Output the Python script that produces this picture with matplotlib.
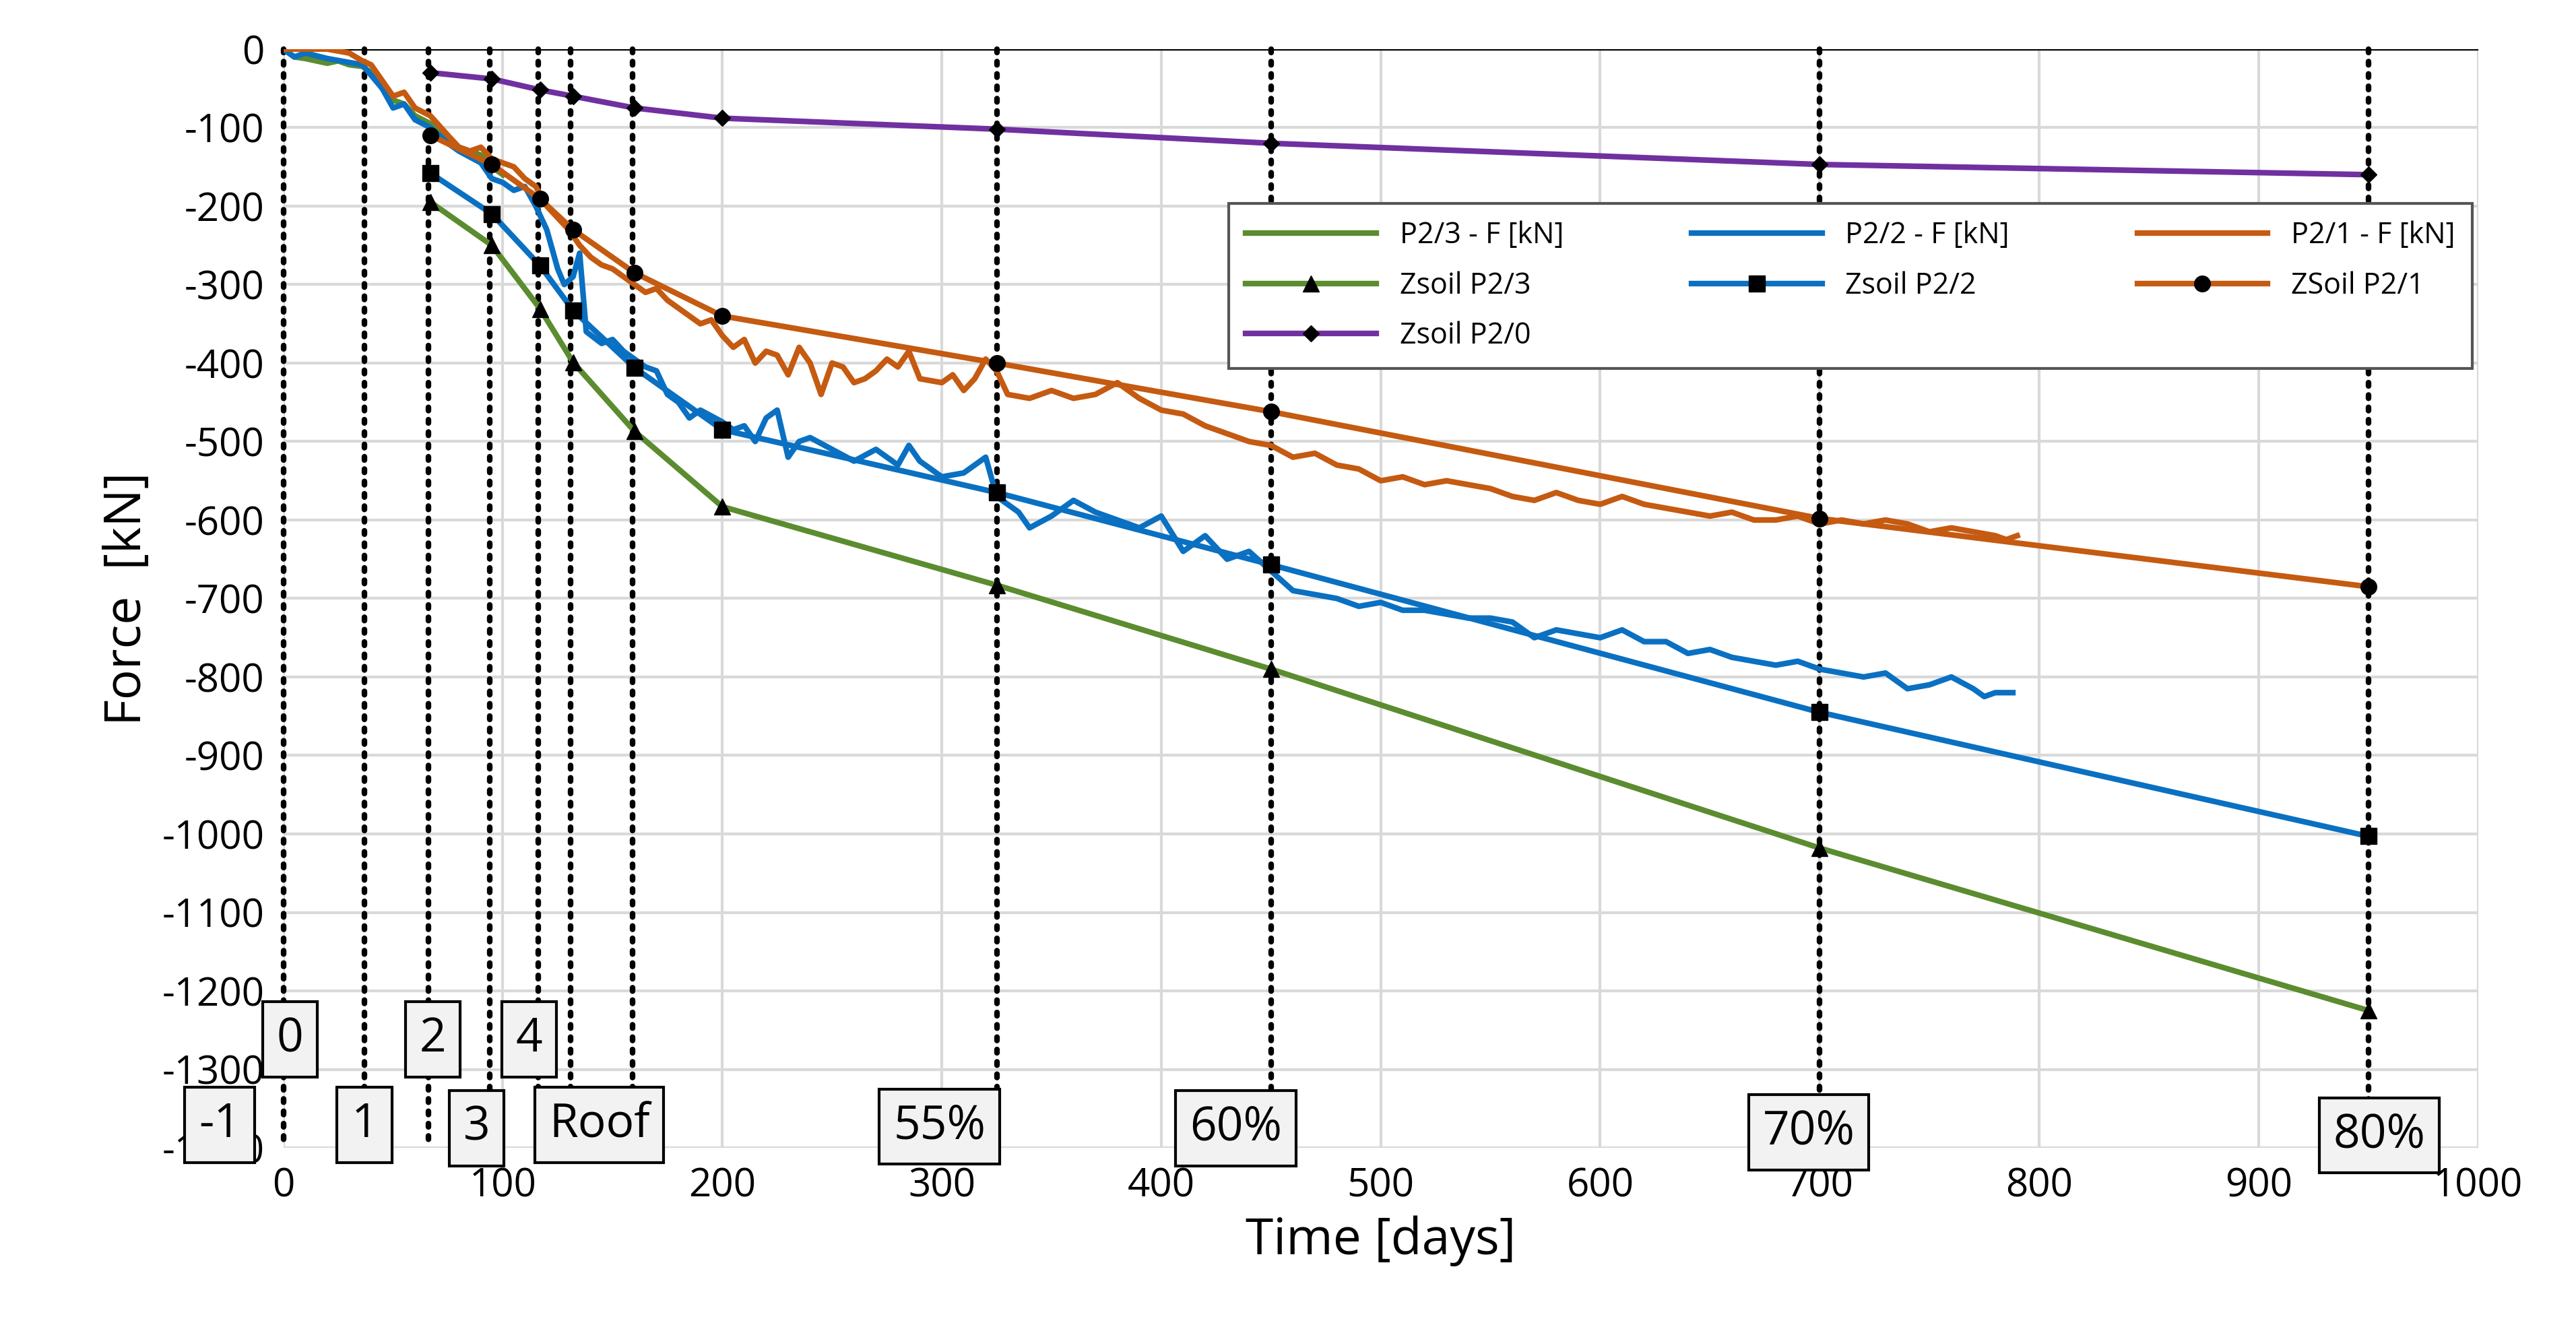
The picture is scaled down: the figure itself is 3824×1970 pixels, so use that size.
import matplotlib
matplotlib.use("Agg")
import matplotlib.pyplot as plt

# measured data
m1_t = [0,10,20,30,36,40,45,50,55,60,67,75,80,85,90,95,100,105,110,115,120,125,130,135,140,145,150,160,165,170,175,180,185,190,195,200,205,210,215,220,225,230,235,240,245,250,255,260,265,270,275,280,285,290,300,305,310,315,320,325,330,340,350,360,370,380,390,400,410,420,430,440,450,460,470,480,490,500,510,520,530,540,550,560,570,580,590,600,610,620,630,640,650,660,670,680,690,700,710,720,730,740,750,760,770,780,785,790]
m1_f = [0,0,0,-5,-15,-20,-40,-60,-55,-75,-85,-110,-125,-130,-125,-140,-145,-150,-165,-175,-200,-215,-230,-250,-265,-275,-280,-300,-310,-305,-320,-330,-340,-350,-345,-365,-380,-370,-400,-385,-390,-415,-380,-400,-440,-400,-405,-425,-420,-410,-395,-405,-385,-420,-425,-415,-435,-420,-395,-410,-440,-445,-435,-445,-440,-425,-445,-460,-465,-480,-490,-500,-505,-520,-515,-530,-535,-550,-545,-555,-550,-555,-560,-570,-575,-565,-575,-580,-570,-580,-585,-590,-595,-590,-600,-600,-595,-605,-600,-605,-600,-605,-615,-610,-615,-620,-625,-620]
m2_t = [0,5,10,20,36,45,50,55,60,67,75,80,90,95,100,105,110,115,120,125,128,132,135,138,145,150,155,160,165,170,175,180,185,190,200,205,210,215,220,225,230,235,240,250,260,270,280,285,290,300,310,315,320,325,335,340,350,360,370,380,390,400,410,420,430,440,450,460,470,480,490,500,510,520,530,540,550,560,570,580,590,600,610,620,630,640,650,660,670,680,690,700,710,720,730,740,750,760,770,775,780,788]
m2_f = [0,-10,-5,-12,-20,-50,-75,-70,-90,-100,-120,-130,-145,-165,-170,-180,-175,-200,-230,-280,-300,-290,-260,-360,-375,-370,-385,-395,-405,-410,-440,-450,-470,-460,-475,-485,-480,-500,-470,-460,-520,-500,-495,-510,-525,-510,-530,-505,-525,-545,-540,-530,-520,-570,-590,-610,-595,-575,-590,-600,-610,-595,-640,-620,-650,-640,-665,-690,-695,-700,-710,-705,-715,-715,-720,-725,-725,-730,-750,-740,-745,-750,-740,-755,-755,-770,-765,-775,-780,-785,-780,-790,-795,-800,-795,-815,-810,-800,-815,-825,-820,-820]
m3_t = [0,5,10,15,20,25,30,36,40,45,50,55,60,67,75,80,90,95,100]
m3_f = [0,-10,-12,-15,-18,-15,-20,-22,-30,-50,-65,-70,-85,-95,-115,-125,-135,-150,-160]

# Zsoil
z_t = [67,95,117,132,160,200,325,450,700,950]
z0_f = [-30,-38,-52,-60,-75,-88,-102,-120,-147,-160]
z1_f = [-110,-147,-191,-230,-285,-340,-400,-462,-598,-685]
z2_f = [-158,-210,-276,-333,-406,-485,-565,-657,-845,-1003]
z3_f = [-195,-250,-331,-399,-487,-583,-683,-790,-1018,-1225]

stage_t = [0,37,66,94,116,131,159,325,450,700,950]
label_txt = ["0","2","4","-1","1","3","Roof","55%","60%","70%","80%"]
label_x = [3,68,112,-29,37,88,144,299,434,695,955]
label_y = [-1262,-1262,-1262,-1371,-1371,-1375,-1371,-1373,-1375,-1380,-1384]

GREEN, BLUE, ORANGE, PURPLE = "#5B8C2F", "#0A70C2", "#C55A11", "#7030A0"
plt.rcParams["font.family"] = "Open Sans"
plt.rcParams["axes.unicode_minus"] = False

fig = plt.figure(figsize=(38.24, 19.70), dpi=100)
ax = fig.add_axes([0.11, 0.135, 0.852, 0.828])
ax.set_xlim(0, 1000)
ax.set_ylim(-1400, 0)
ax.set_xticks(range(0, 1001, 100))
ax.set_yticks(range(-1400, 1, 100))
ax.grid(True, color="#d9d9d9", lw=3)
for s in ax.spines.values():
    s.set_visible(False)
ax.axhline(0, color="black", lw=3, zorder=3)
ax.tick_params(length=0, labelsize=42, pad=20)

for t in stage_t:
    ax.plot([t, t], [0, -1400], color="black", lw=6, ls=(0, (0.6, 1.6)), dash_capstyle="round",
            zorder=2, clip_on=False)

lw = 6
l3, = ax.plot(m3_t, m3_f, color=GREEN, lw=lw, zorder=4)
l2, = ax.plot(m2_t, m2_f, color=BLUE, lw=lw, zorder=5)
l1, = ax.plot(m1_t, m1_f, color=ORANGE, lw=lw, zorder=6)
ms = 17
z3, = ax.plot(z_t, z3_f, color=GREEN, lw=lw, marker="^", mfc="black", mec="black", ms=ms, zorder=7, clip_on=False)
z2, = ax.plot(z_t, z2_f, color=BLUE, lw=lw, marker="s", mfc="black", mec="black", ms=ms, zorder=7, clip_on=False)
z1, = ax.plot(z_t, z1_f, color=ORANGE, lw=lw, marker="o", mfc="black", mec="black", ms=ms, zorder=7, clip_on=False)
z0, = ax.plot(z_t, z0_f, color=PURPLE, lw=lw, marker="D", mfc="black", mec="black", ms=12, zorder=7, clip_on=False)

for txt, x, y in zip(label_txt, label_x, label_y):
    ax.text(x, y, txt, fontsize=50, ha="center", va="center", zorder=10, clip_on=False,
            bbox=dict(boxstyle="square,pad=0.3", fc="#f2f2f2", ec="black", lw=3))

handles = [l3, z3, z0, l2, z2, l1, z1]
labels = ["P2/3 - F [kN]", "Zsoil P2/3", "Zsoil P2/0", "P2/2 - F [kN]", "Zsoil P2/2", "P2/1 - F [kN]", "ZSoil P2/1"]
leg = ax.legend(handles, labels, ncol=3, loc="lower left", bbox_to_anchor=(0.424, 0.696, 0.58, 0.177),
                mode="expand", fontsize=31, frameon=True, fancybox=False, edgecolor="#555555",
                handlelength=4.5, borderpad=0.6, labelspacing=0.7, framealpha=1)
leg.get_frame().set_linewidth(3)
leg.set_zorder(20)

ax.set_xlabel("Time [days]", fontsize=54, labelpad=10)
ax.set_ylabel("Force  [kN]", fontsize=54, labelpad=10)
fig.savefig("out.png", dpi=100)
